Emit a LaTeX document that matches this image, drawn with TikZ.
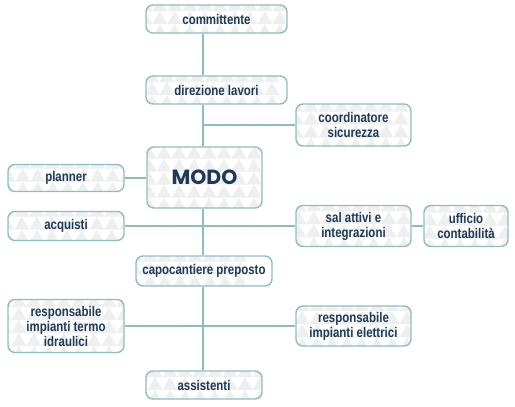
\documentclass[tikz,border=0pt]{standalone}
\usepackage{fontspec}
\setmainfont{Liberation Sans}[FakeStretch=0.82]
\newfontfamily\modofont{Poppins}
\usetikzlibrary{backgrounds}
\definecolor{navy}{HTML}{1E3A56}
\definecolor{teal}{HTML}{8DBDC3}
\definecolor{tri}{HTML}{EEEFEF}
\tikzset{
  box/.style={draw=teal, line width=1.4pt, rounded corners=7pt, fill=white,
    text=navy, font=\bfseries\fontsize{14}{15}\selectfont, align=center,
    inner sep=2pt,
    path picture={
      \begin{scope}[shift={(path picture bounding box.center)}, sharp corners]
        \foreach \i in {-6,...,6}{
          \foreach \j in {-4,...,4}{
            \fill[tri] (\i*15pt+7.5pt,\j*13pt+13pt) -- (\i*15pt+15pt,\j*13pt) -- (\i*15pt,\j*13pt) -- cycle;
          }
        }
      \end{scope}
    }},
  link/.style={draw=teal, line width=1.4pt}
}
\begin{document}
\begin{tikzpicture}[x=1pt,y=-1pt]
\useasboundingbox (0,0) rectangle (515,407);
\coordinate (spine) at (203,0);
\node[box, minimum width=141pt, minimum height=28pt] (committente) at (216.5,19) {committente};
\node[box, minimum width=141pt, minimum height=28pt] (direzione) at (216.5,90) {direzione lavori};
\node[box, minimum width=115pt, minimum height=42pt] (coord) at (353.5,125) {coordinatore\\sicurezza};
\node[box, minimum width=115pt, minimum height=61pt, font=\modofont\bfseries\fontsize{20.5}{21}\selectfont] (modo) at (204.5,177.5) {MODO};
\node[box, minimum width=116pt, minimum height=27pt] (planner) at (66,178) {planner};
\node[box, minimum width=116pt, minimum height=29pt] (acquisti) at (66,226) {acquisti};
\node[box, minimum width=115pt, minimum height=41pt] (sal) at (353.5,226) {sal attivi e\\integrazioni};
\node[box, minimum width=84pt, minimum height=41pt] (ufficio) at (466,226) {ufficio\\contabilità};
\node[box, minimum width=136pt, minimum height=30pt] (capo) at (204,271) {capocantiere preposto};
\node[box, minimum width=116pt, minimum height=53pt] (termo) at (66,326) {responsabile\\impianti termo\\idraulici};
\node[box, minimum width=115pt, minimum height=40pt] (elettrici) at (353.5,326) {responsabile\\impianti elettrici};
\node[box, minimum width=116pt, minimum height=28pt] (assistenti) at (204,385) {assistenti};
\begin{scope}[on background layer]
  \draw[link] (committente.south -| spine) -- (direzione.north -| spine);
  \draw[link] (direzione.south -| spine) -- (modo.north -| spine);
  \draw[link] (modo.south -| spine) -- (capo.north -| spine);
  \draw[link] (capo.south -| spine) -- (assistenti.north -| spine);
  \draw[link] (spine |- coord.west) -- (coord.west);
  \draw[link] (planner.east) -- (modo.west |- planner.east);
  \draw[link] (acquisti.east) -- (sal.west);
  \draw[link] (sal.east) -- (ufficio.west);
  \draw[link] (termo.east) -- (elettrici.west);
\end{scope}
\end{tikzpicture}
\end{document}
